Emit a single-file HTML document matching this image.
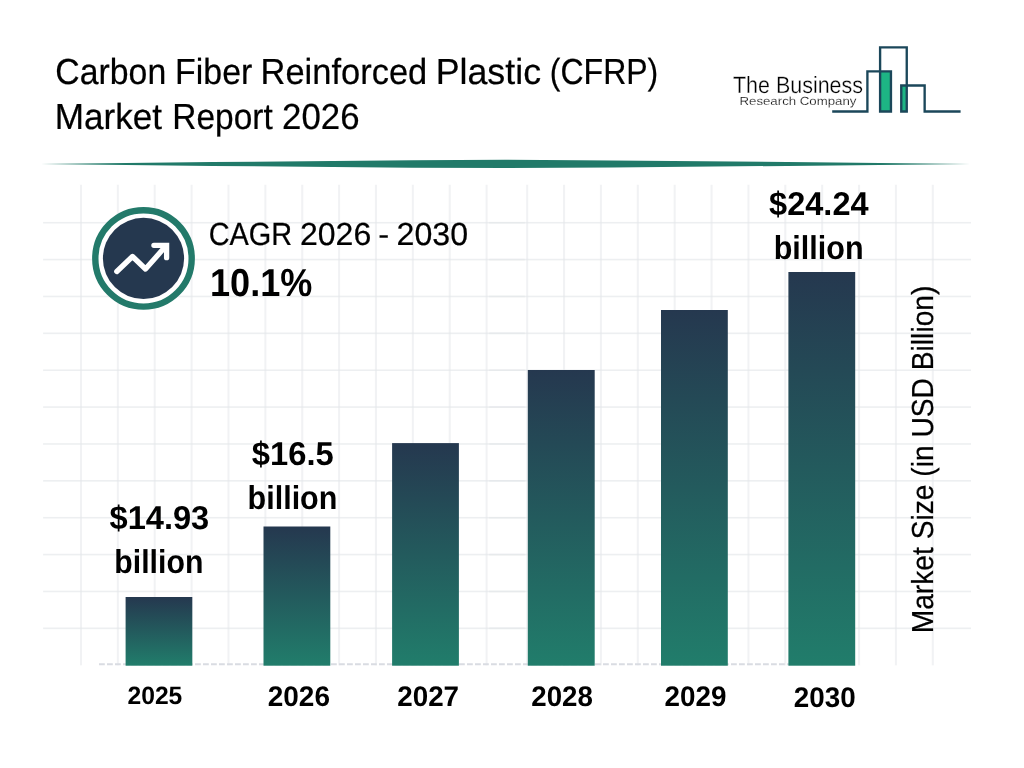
<!DOCTYPE html>
<html lang="en">
<head>
<meta charset="utf-8">
<title>Carbon Fiber Reinforced Plastic (CFRP) Market Report 2026</title>
<style>
html,body{margin:0;padding:0;background:#fff;}
body{width:1024px;height:768px;overflow:hidden;font-family:"Liberation Sans",sans-serif;}
svg{display:block;}
text{font-family:"Liberation Sans",sans-serif;text-rendering:geometricPrecision;}
</style>
</head>
<body>
<svg width="1024" height="768" viewBox="0 0 1024 768">
<defs>
<linearGradient id="bg" x1="0" y1="0" x2="0" y2="1">
<stop offset="0" stop-color="#25384f"/>
<stop offset="1" stop-color="#217d6b"/>
</linearGradient>
</defs>
<rect width="1024" height="768" fill="#fff"/>
<!-- header rule -->
<path d="M41 164 L212 162.05 L412 160.2 L505 159.8 L612 160.5 L812 162.3 L970 164 L812 165.7 L612 167.4 L505 168 L412 167.8 L212 165.95 Z" fill="#217a69"/>
<!-- grid -->
<g fill="#e4e6ea" fill-opacity="0.5">
<rect x="79.97" y="184.8" width="2" height="480.5"/>
<rect x="116.85" y="184.8" width="2" height="480.5"/>
<rect x="153.72" y="184.8" width="2" height="480.5"/>
<rect x="190.60" y="184.8" width="2" height="480.5"/>
<rect x="227.47" y="184.8" width="2" height="480.5"/>
<rect x="264.35" y="184.8" width="2" height="480.5"/>
<rect x="301.23" y="184.8" width="2" height="480.5"/>
<rect x="338.10" y="184.8" width="2" height="480.5"/>
<rect x="374.98" y="184.8" width="2" height="480.5"/>
<rect x="411.85" y="184.8" width="2" height="480.5"/>
<rect x="448.73" y="184.8" width="2" height="480.5"/>
<rect x="485.60" y="184.8" width="2" height="480.5"/>
<rect x="43.10" y="221.92" width="481.7" height="1.6" fill-opacity="0.66"/>
<rect x="43.10" y="258.80" width="481.7" height="1.6" fill-opacity="0.66"/>
<rect x="43.10" y="295.68" width="481.7" height="1.6" fill-opacity="0.66"/>
<rect x="43.10" y="332.55" width="481.7" height="1.6" fill-opacity="0.66"/>
<rect x="43.10" y="369.43" width="481.7" height="1.6" fill-opacity="0.66"/>
<rect x="43.10" y="406.30" width="481.7" height="1.6" fill-opacity="0.66"/>
<rect x="43.10" y="443.18" width="481.7" height="1.6" fill-opacity="0.66"/>
<rect x="43.10" y="480.05" width="481.7" height="1.6" fill-opacity="0.66"/>
<rect x="43.10" y="516.93" width="481.7" height="1.6" fill-opacity="0.66"/>
<rect x="43.10" y="553.80" width="481.7" height="1.6" fill-opacity="0.66"/>
<rect x="43.10" y="590.68" width="481.7" height="1.6" fill-opacity="0.66"/>
<rect x="43.10" y="627.55" width="481.7" height="1.6" fill-opacity="0.66"/>
<rect x="526.18" y="184.8" width="2" height="480.5"/>
<rect x="563.05" y="184.8" width="2" height="480.5"/>
<rect x="599.93" y="184.8" width="2" height="480.5"/>
<rect x="636.80" y="184.8" width="2" height="480.5"/>
<rect x="673.68" y="184.8" width="2" height="480.5"/>
<rect x="710.55" y="184.8" width="2" height="480.5"/>
<rect x="747.43" y="184.8" width="2" height="480.5"/>
<rect x="784.30" y="184.8" width="2" height="480.5"/>
<rect x="821.18" y="184.8" width="2" height="480.5"/>
<rect x="858.05" y="184.8" width="2" height="480.5"/>
<rect x="894.93" y="184.8" width="2" height="480.5"/>
<rect x="931.80" y="184.8" width="2" height="480.5"/>
<rect x="489.30" y="221.92" width="481.7" height="1.6" fill-opacity="0.66"/>
<rect x="489.30" y="258.80" width="481.7" height="1.6" fill-opacity="0.66"/>
<rect x="489.30" y="295.68" width="481.7" height="1.6" fill-opacity="0.66"/>
<rect x="489.30" y="332.55" width="481.7" height="1.6" fill-opacity="0.66"/>
<rect x="489.30" y="369.43" width="481.7" height="1.6" fill-opacity="0.66"/>
<rect x="489.30" y="406.30" width="481.7" height="1.6" fill-opacity="0.66"/>
<rect x="489.30" y="443.18" width="481.7" height="1.6" fill-opacity="0.66"/>
<rect x="489.30" y="480.05" width="481.7" height="1.6" fill-opacity="0.66"/>
<rect x="489.30" y="516.93" width="481.7" height="1.6" fill-opacity="0.66"/>
<rect x="489.30" y="553.80" width="481.7" height="1.6" fill-opacity="0.66"/>
<rect x="489.30" y="590.68" width="481.7" height="1.6" fill-opacity="0.66"/>
<rect x="489.30" y="627.55" width="481.7" height="1.6" fill-opacity="0.66"/>
</g>
<!-- baseline dashes -->
<line x1="99" y1="664.15" x2="790" y2="664.15" stroke="#d9dce2" stroke-width="2" stroke-dasharray="5.8 2.2"/>
<!-- bars -->
<rect x="125.6" y="597.0" width="66.7" height="68.7" fill="url(#bg)"/>
<rect x="263.5" y="526.5" width="66.8" height="139.2" fill="url(#bg)"/>
<rect x="392.1" y="443.1" width="66.8" height="222.6" fill="url(#bg)"/>
<rect x="527.8" y="370.0" width="66.9" height="295.7" fill="url(#bg)"/>
<rect x="661.0" y="310.0" width="66.8" height="355.7" fill="url(#bg)"/>
<rect x="788.4" y="272.0" width="66.8" height="393.7" fill="url(#bg)"/>
<!-- CAGR icon -->
<circle cx="143.5" cy="258.4" r="48.2" fill="#fff" stroke="#237a6a" stroke-width="6.4"/>
<circle cx="143.5" cy="258.4" r="40.6" fill="#25384f"/>
<g fill="none" stroke="#fff" stroke-width="5.3" stroke-linecap="round" stroke-linejoin="round">
<polyline points="116.8,271.5 132.5,256.5 145.5,269.0 165.4,246.6"/>
<polyline points="153.9,245.3 166.6,245.3 166.6,257.7" stroke-linejoin="miter"/>
</g>
<!-- logo -->
<g>
<rect x="880.1" y="71.35" width="10.85" height="40.1" fill="#1db584"/>
<rect x="901.25" y="85.45" width="5.5" height="26" fill="#1db584"/>
<g fill="none" stroke="#1b475a" stroke-width="2.35" stroke-linejoin="miter">
<polyline points="832.2,111.45 867.4,111.45 867.4,71.35 890.95,71.35 890.95,111.45 880.1,111.45 880.1,47.4 906.75,47.4 906.75,111.45 901.25,111.45 901.25,85.45 924.65,85.45 924.65,111.45 960.6,111.45"/>
</g>
</g>
<!-- texts -->
<text transform="translate(55.37 84) scale(0.9336 1)" font-size="36.2" font-weight="400" fill="#000" stroke="#000" stroke-width="0.22">Carbon</text>
<text transform="translate(175.09 84) scale(0.9359 1)" font-size="36.2" font-weight="400" fill="#000" stroke="#000" stroke-width="0.22">Fiber</text>
<text transform="translate(260.54 84) scale(0.9526 1)" font-size="36.2" font-weight="400" fill="#000" stroke="#000" stroke-width="0.22">Reinforced</text>
<text transform="translate(435.63 84) scale(0.9893 1)" font-size="36.2" font-weight="400" fill="#000" stroke="#000" stroke-width="0.22">Plastic</text>
<text transform="translate(549.81 84) scale(0.8847 1)" font-size="36.2" font-weight="400" fill="#000" stroke="#000" stroke-width="0.22">(CFRP)</text>
<text transform="translate(54.69 129) scale(0.9706 1)" font-size="36.2" font-weight="400" fill="#000" stroke="#000" stroke-width="0.22">Market</text>
<text transform="translate(172.28 129) scale(0.9249 1)" font-size="36.2" font-weight="400" fill="#000" stroke="#000" stroke-width="0.22">Report</text>
<text transform="translate(282.12 129) scale(0.9618 1)" font-size="36.2" font-weight="400" fill="#000" stroke="#000" stroke-width="0.22">2026</text>
<text transform="translate(208.67 245) scale(0.9036 1)" font-size="32.0" font-weight="400" fill="#000" stroke="#000" stroke-width="0.22">CAGR</text>
<text transform="translate(299.95 245) scale(1.0015 1)" font-size="32.0" font-weight="400" fill="#000" stroke="#000" stroke-width="0.22">2026</text>
<text transform="translate(378.36 245) scale(1.0258 1)" font-size="32.0" font-weight="400" fill="#000" stroke="#000" stroke-width="0.22">-</text>
<text transform="translate(396.59 245) scale(1.0044 1)" font-size="32.0" font-weight="400" fill="#000" stroke="#000" stroke-width="0.22">2030</text>
<text transform="translate(209.99 296) scale(0.9252 1)" font-size="39.0" font-weight="700" fill="#000">10.1%</text>
<text transform="translate(109.51 529) scale(0.9879 1)" font-size="33.0" font-weight="700" fill="#000">$14.93</text>
<text transform="translate(114.34 573) scale(0.9164 1)" font-size="33.0" font-weight="700" fill="#000">billion</text>
<text transform="translate(251.80 465) scale(0.9914 1)" font-size="33.0" font-weight="700" fill="#000">$16.5</text>
<text transform="translate(247.57 509) scale(0.9245 1)" font-size="33.0" font-weight="700" fill="#000">billion</text>
<text transform="translate(769.11 215) scale(0.9855 1)" font-size="33.0" font-weight="700" fill="#000">$24.24</text>
<text transform="translate(773.72 259) scale(0.9251 1)" font-size="33.0" font-weight="700" fill="#000">billion</text>
<text transform="translate(127.46 704) scale(0.9862 1)" font-size="25.0" font-weight="700" fill="#000">2025</text>
<text transform="translate(267.76 706) scale(0.9853 1)" font-size="28.4" font-weight="700" fill="#000">2026</text>
<text transform="translate(397.22 706) scale(0.9787 1)" font-size="28.4" font-weight="700" fill="#000">2027</text>
<text transform="translate(531.33 706) scale(0.9747 1)" font-size="28.4" font-weight="700" fill="#000">2028</text>
<text transform="translate(664.57 706) scale(0.9795 1)" font-size="28.4" font-weight="700" fill="#000">2029</text>
<text transform="translate(793.87 707) scale(0.9795 1)" font-size="28.4" font-weight="700" fill="#000">2030</text>
<text transform="translate(732.94 93) scale(0.9135 1)" font-size="23.5" font-weight="400" fill="#000" stroke="#fff" stroke-width="0.3">The Business</text>
<text transform="translate(739.48 105) scale(1.1215 1)" font-size="11.8" font-weight="400" fill="#111" stroke="#fff" stroke-width="0.18">Research Company</text>
<text transform="translate(933.00 633.32) rotate(-90) scale(0.9274 1)" font-size="30.4" font-weight="400" fill="#000" stroke="#000" stroke-width="0.22">Market Size (in USD Billion)</text>
</svg>
</body>
</html>
